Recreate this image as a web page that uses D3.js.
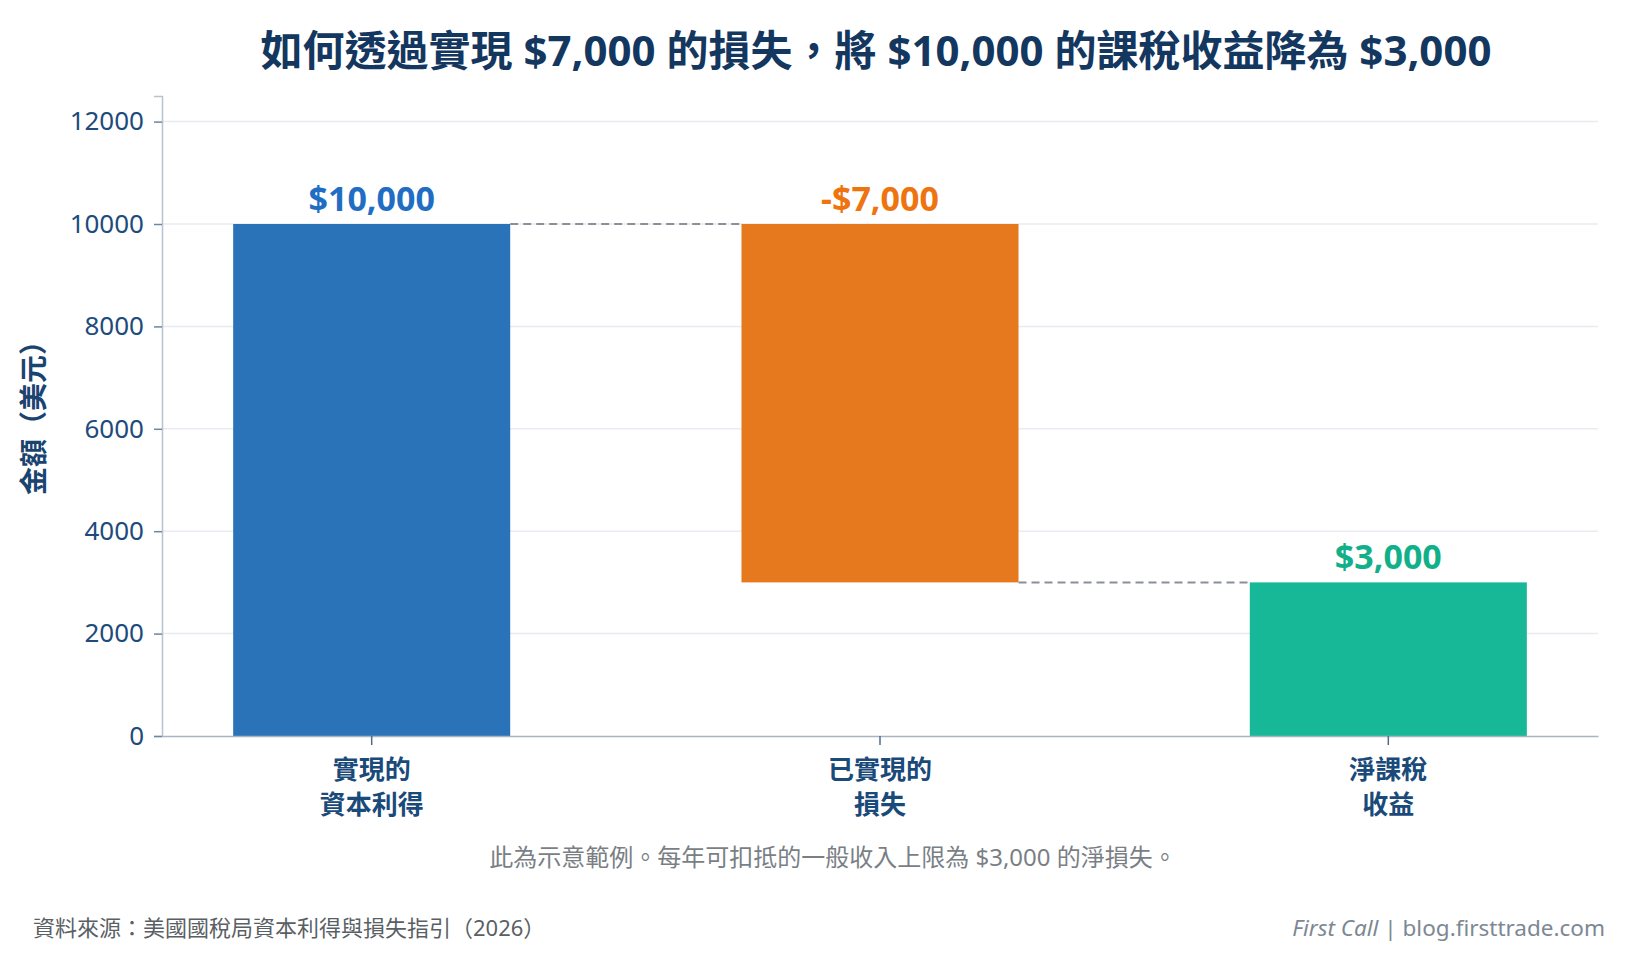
<!DOCTYPE html>
<html>
<head>
<meta charset="utf-8">
<script src="https://cdn.jsdelivr.net/npm/d3@7"></script>
<style>
  html, body { margin: 0; padding: 0; background: #ffffff; }
  svg { display: block; font-family: "Noto Sans", "Noto Sans CJK TC", sans-serif; }
</style>
</head>
<body>
<svg id="chart" width="1632" height="964"></svg>
<script>
// --- data ---
const categories = ["實現的\n資本利得", "已實現的\n損失", "淨課稅\n收益"];
const changes = [10000, -7000, 3000];
const kinds = ["delta", "delta", "total"];
const valueLabels = ["$10,000", "-$7,000", "$3,000"];
const barColors = ["#2b73b8", "#e6781e", "#17b897"];
const labelColors = ["#1f6ec4", "#ee7410", "#12b08a"];
const yTicks = [0, 2000, 4000, 6000, 8000, 10000, 12000];

const title = "如何透過實現 $7,000 的損失，將 $10,000 的課稅收益降為 $3,000";
const yTitle = "金額（美元）";
const note = "此為示意範例。每年可扣抵的一般收入上限為 $3,000 的淨損失。";
const source = "資料來源：美國國稅局資本利得與損失指引（2026）";

const FONT = '"Noto Sans", "Noto Sans CJK TC", sans-serif';

// --- waterfall steps ---
let running = 0;
const steps = changes.map((v, i) => {
    let lo, hi;
    if (kinds[i] === "total") { lo = 0; hi = v; running = v; }
    else { const prev = running; running += v; lo = Math.min(prev, running); hi = Math.max(prev, running); }
    return { cat: categories[i], lo, hi, end: running, i };
});

// --- layout ---
const svg = d3.select("#chart");
const plotL = 162, plotR = 1598, plotT = 96, plotB = 736;

const x = d3.scaleBand().domain(categories).range([plotL, plotR])
    .paddingInner(0.455).paddingOuter(0.14);
const y = d3.scaleLinear().domain([0, 12500]).range([plotB, plotT]);

// title
svg.append("text").attr("x", 876).attr("y", 66).attr("text-anchor", "middle")
    .style("font-size", "42px").style("font-weight", "bold").attr("fill", "#14375f").text(title);

// gridlines
svg.append("g").selectAll("line").data(yTicks.filter(d => d > 0)).join("line")
    .attr("x1", plotL).attr("x2", plotR).attr("y1", d => y(d)).attr("y2", d => y(d))
    .attr("stroke", "#e8ecf1").attr("stroke-width", 1.5);

// y axis
const yAxis = svg.append("g").attr("transform", `translate(${plotL},0)`)
    .call(d3.axisLeft(y).tickValues(yTicks).tickSize(8).tickPadding(10).tickFormat(d3.format("d")))
    .attr("font-family", FONT);
yAxis.select(".domain").attr("stroke", "#b9c3cf").attr("stroke-width", 1.5);
yAxis.selectAll(".tick line").attr("stroke", "#6d86a3").attr("stroke-width", 1.5);
yAxis.selectAll(".tick text").attr("fill", "#1d4b7c").style("font-size", "26px");

// y title
svg.append("text").attr("transform", `translate(44,${411}) rotate(-90)`).attr("text-anchor", "middle")
    .style("font-size", "28px").style("font-weight", "bold").attr("fill", "#1a4470").text(yTitle);

// bars
svg.append("g").selectAll("rect").data(steps).join("rect")
    .attr("x", d => x(d.cat)).attr("width", x.bandwidth())
    .attr("y", d => y(d.hi)).attr("height", d => y(d.lo) - y(d.hi))
    .attr("fill", d => barColors[d.i]);

// connectors
svg.append("g").selectAll("line").data(steps.slice(0, -1)).join("line")
    .attr("x1", d => x(d.cat) + x.bandwidth())
    .attr("x2", d => x(categories[d.i + 1]))
    .attr("y1", d => y(d.end)).attr("y2", d => y(d.end))
    .attr("stroke", "#8a8f99").attr("stroke-width", 2).attr("stroke-dasharray", "8,5");

// value labels
svg.append("g").selectAll("text").data(steps).join("text")
    .attr("x", d => x(d.cat) + x.bandwidth() / 2).attr("y", d => y(d.hi) - 13)
    .attr("text-anchor", "middle").style("font-size", "34px").style("font-weight", "bold")
    .attr("fill", d => labelColors[d.i]).text(d => valueLabels[d.i]);

// x axis
const xAxis = svg.append("g").attr("transform", `translate(0,${plotB})`)
    .call(d3.axisBottom(x).tickSize(9).tickSizeOuter(0).tickFormat(""))
    .attr("font-family", FONT);
xAxis.select(".domain").attr("stroke", "#a9b4c2").attr("stroke-width", 1.5);
xAxis.selectAll(".tick line").attr("stroke", "#4f6b8c").attr("stroke-width", 1.5);
xAxis.selectAll(".tick").each(function(d) {
    const t = d3.select(this).append("text").attr("text-anchor", "middle")
        .attr("fill", "#1a4a7a").style("font-size", "26px").style("font-weight", "600");
    d.split("\n").forEach((line, k) => {
        t.append("tspan").attr("x", 0).attr("y", 43 + k * 35).text(line);
    });
});

// note + footer
svg.append("text").attr("x", 833).attr("y", 866).attr("text-anchor", "middle")
    .style("font-size", "24px").attr("fill", "#7a7f86").text(note);
svg.append("text").attr("x", 33).attr("y", 936)
    .style("font-size", "22px").attr("fill", "#5a5f66").text(source);
const brand = svg.append("text").attr("x", 1605).attr("y", 936).attr("text-anchor", "end")
    .style("font-size", "22.5px").attr("fill", "#7d8894");
brand.append("tspan").style("font-style", "italic").text("First Call");
brand.append("tspan").text(" | blog.firsttrade.com");
</script>
</body>
</html>
